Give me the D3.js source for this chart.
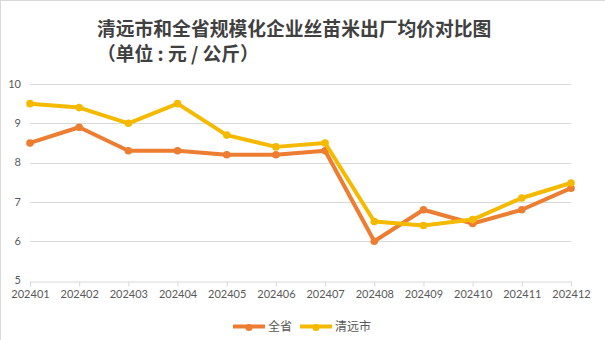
<!DOCTYPE html>
<html>
<head>
<meta charset="utf-8">
<script src="https://cdn.jsdelivr.net/npm/d3@7/dist/d3.min.js"></script>
<style>
  html, body { margin: 0; padding: 0; background: #fff; }
  svg { display: block; }
</style>
</head>
<body>
<svg id="chart" width="605" height="340"></svg>
<script>
// Monthly categories
const months = ["202401","202402","202403","202404","202405","202406",
                "202407","202408","202409","202410","202411","202412"];
// Average ex-factory price, province-wide (元/公斤)
const provinceValues = [8.5, 8.9, 8.3, 8.3, 8.2, 8.2, 8.3, 6.0, 6.8, 6.45, 6.8, 7.35];
// Average ex-factory price, Qingyuan (元/公斤)
const qingyuanValues = [9.5, 9.4, 9.0, 9.5, 8.7, 8.4, 8.5, 6.5, 6.4, 6.55, 7.1, 7.48];
// Y axis ticks
const yTicks = [5, 6, 7, 8, 9, 10];
const seriesNames = ["全省", "清远市"];
const seriesColors = ["#ED7D31", "#F5BA00"];
const titleLines = ["清远市和全省规模化企业丝苗米出厂均价对比图", "（单位 : 元 / 公斤）"];

const svg = d3.select("#chart");
const W = 605, H = 340;
const margin = { left: 30, right: 34, top: 84, bottom: 59.5 };

// chart frame edges
svg.append("line").attr("x1", 0.5).attr("y1", 0).attr("x2", 0.5).attr("y2", H)
  .attr("stroke", "#d9d9d9");
svg.append("line").attr("x1", 0).attr("y1", 0.5).attr("x2", W).attr("y2", 0.5)
  .attr("stroke", "#d9d9d9");

// title, two lines
svg.append("g").selectAll("text").data(titleLines).join("text")
  .attr("x", 97).attr("y", (d, i) => 36 + i * 25)
  .attr("font-family", "'Noto Sans CJK SC', sans-serif")
  .attr("font-weight", "bold").attr("font-size", 18.8)
  .attr("fill", "#404040")
  .text(d => d);

const x = d3.scalePoint().domain(months)
  .range([margin.left, W - margin.right]);
const y = d3.scaleLinear().domain([5, 10])
  .range([H - margin.bottom, margin.top]);

// gridlines
svg.append("g").selectAll("line").data(yTicks.filter(d => d !== 5)).join("line")
  .attr("x1", margin.left).attr("x2", W - margin.right)
  .attr("y1", d => Math.round(y(d)) + 0.5).attr("y2", d => Math.round(y(d)) + 0.5)
  .attr("stroke", "#d9d9d9").attr("stroke-width", 1);

// y axis labels
svg.append("g").selectAll("text").data(yTicks).join("text")
  .attr("x", 21).attr("y", d => y(d)).attr("dy", "0.35em")
  .attr("text-anchor", "end")
  .attr("font-family", "Lato, 'Noto Sans', sans-serif").attr("font-size", 11)
  .attr("fill", "#595959")
  .text(d => d);

// x axis
const xAxis = svg.append("g")
  .attr("transform", `translate(0,${Math.round(y(5)) + 0.5})`)
  .call(d3.axisBottom(x).tickSizeInner(5).tickSizeOuter(0).tickPadding(4));
xAxis.select(".domain").attr("stroke", "#d9d9d9");
xAxis.selectAll(".tick line").attr("stroke", "#d9d9d9");
xAxis.selectAll(".tick text")
  .attr("font-family", "Lato, 'Noto Sans', sans-serif").attr("font-size", 11)
  .attr("fill", "#595959");

// series lines and markers
const line = d3.line().x((d, i) => x(months[i])).y(d => y(d));
[provinceValues, qingyuanValues].forEach((vals, k) => {
  const g = svg.append("g");
  g.append("path").datum(vals).attr("d", line)
    .attr("fill", "none").attr("stroke", seriesColors[k])
    .attr("stroke-width", 4).attr("stroke-linejoin", "round");
  g.selectAll("circle").data(vals).join("circle")
    .attr("cx", (d, i) => x(months[i])).attr("cy", d => y(d)).attr("r", 3.8)
    .attr("fill", seriesColors[k]);
});

// legend
const legendItems = [
  { name: seriesNames[0], color: seriesColors[0], x0: 233 },
  { name: seriesNames[1], color: seriesColors[1], x0: 300 }
];
const lg = svg.append("g");
legendItems.forEach(it => {
  lg.append("line").attr("x1", it.x0).attr("x2", it.x0 + 32)
    .attr("y1", 326.5).attr("y2", 326.5)
    .attr("stroke", it.color).attr("stroke-width", 4);
  lg.append("circle").attr("cx", it.x0 + 16).attr("cy", 327.5).attr("r", 3.5)
    .attr("fill", it.color);
  lg.append("text").attr("x", it.x0 + 35).attr("y", 327).attr("dy", "0.36em")
    .attr("font-family", "'Noto Sans CJK SC', sans-serif").attr("font-size", 12)
    .attr("fill", "#595959").text(it.name);
});
</script>
</body>
</html>
